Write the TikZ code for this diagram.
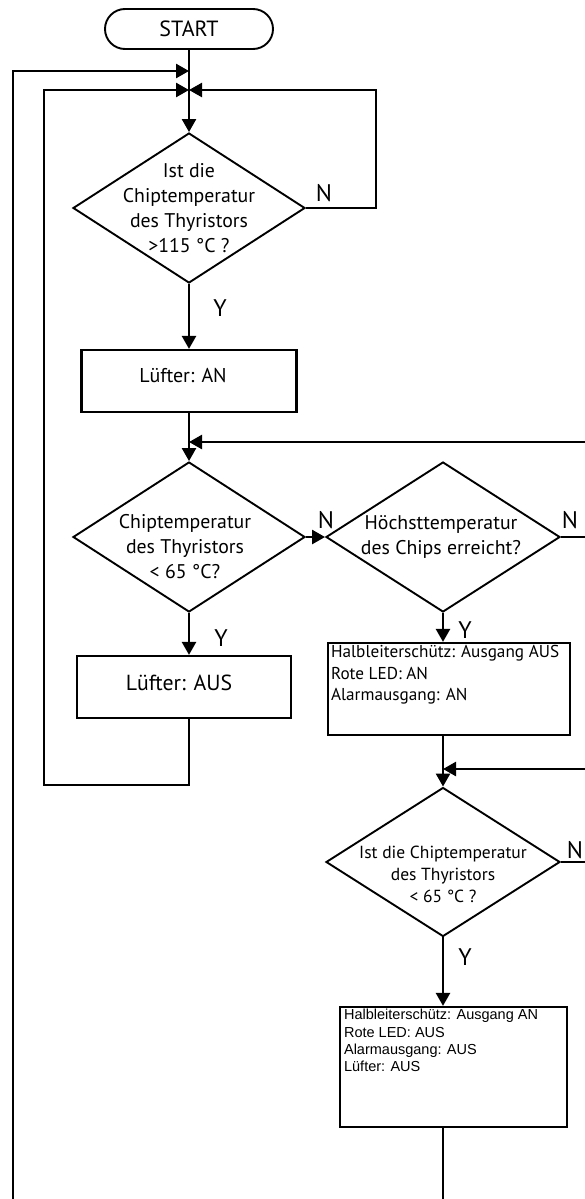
\documentclass[tikz,border=0pt]{standalone}
\usepackage{fontspec}
\setmainfont{PT Sans}
\newfontfamily\arialfont{Liberation Sans}
\usetikzlibrary{shapes.geometric,arrows.meta}
\begin{document}
\begin{tikzpicture}[x=1pt,y=-1pt,
  line/.style={line width=2.5pt},
  arr/.style={line, -{Triangle[length=13pt,width=14pt]}},
  dia/.style={diamond, draw, line width=1.9pt, inner sep=0pt},
  box/.style={rectangle, draw, line width=2.2pt, inner sep=0pt},
  lab/.style={font=\fontsize{24}{24}\selectfont, inner sep=0pt},
  dtext/.style={anchor=center, align=center, inner sep=0pt, font=\fontsize{19.8}{25}\selectfont},
  btext/.style={anchor=center, inner sep=0pt, font=\fontsize{20}{24}\selectfont},
  ]
\useasboundingbox (0,0) rectangle (585,1199);

% nodes
\node[draw, line width=1.9pt, rounded corners=20pt, minimum width=168pt, minimum height=40pt,
      inner sep=0pt, font=\fontsize{22}{22}\selectfont] (st) at (189,29) {START};

\node[dia, minimum width=232pt, minimum height=150pt,
      label={[dtext]center:Ist die\\Chiptemperatur\\des Thyristors\\>115 °C ?}] (d1) at (189,208) {};

\node[box, minimum width=215pt, minimum height=62pt,
      label={[btext, xshift=-6pt, yshift=5pt]center:Lüfter: AN}] (b1) at (189,381) {};

\node[dia, minimum width=232pt, minimum height=150pt,
      label={[dtext, xshift=-4pt, yshift=-10pt]center:Chiptemperatur\\des Thyristors\\< 65 °C?}] (d2) at (189,537) {};

\node[dia, minimum width=234pt, minimum height=150pt,
      label={[dtext, xshift=-2pt]center:Höchsttemperatur\\des Chips erreicht?}] (d3) at (443,537) {};

\node[box, minimum width=214pt, minimum height=62pt,
      label={[btext, xshift=-5pt, yshift=4pt, font=\fontsize{21.8}{24}\selectfont]center:Lüfter: AUS}] (b2) at (184,687) {};

\node[box, minimum width=242pt, minimum height=92pt,
      label={[anchor=north west, align=left, inner sep=3pt, xshift=1pt,
              font=\fontsize{17.2}{21.7}\selectfont]north west:Halbleiterschütz: Ausgang AUS\\Rote LED: AN\\Alarmausgang: AN}] (b3) at (449,689) {};

\node[dia, minimum width=234pt, minimum height=149pt,
      label={[dtext, yshift=-12pt, font=\fontsize{17.5}{22}\selectfont]center:Ist die Chiptemperatur\\des Thyristors\\< 65 °C ?}] (d4) at (443,862) {};

\node[box, minimum width=227pt, minimum height=120pt,
      label={[anchor=north west, align=left, inner sep=3pt, xshift=2pt,
              font=\arialfont\fontsize{14.5}{17.4}\selectfont]north west:Halbleiterschütz: Ausgang AN\\Rote LED: AUS\\Alarmausgang: AUS\\Lüfter: AUS}] (b4) at (453.5,1067) {};

% branch labels
\node[lab] (n1) at (324,193) {N};
\node[lab] (y1) at (220,308) {Y};
\node[lab] (n2) at (326,520) {N};
\node[lab] (y2) at (221,638) {Y};
\node[lab] (n3) at (570,520) {N};
\node[lab] (y3) at (465,630) {Y};
\node[lab] (n4) at (575,850) {N};
\node[lab] (y4) at (465,957) {Y};

% junctions and free ends
\coordinate (j1) at (189,71);
\coordinate (j2) at (189,90);
\coordinate (eL1) at (13,1199);
\coordinate (cL1) at (13,71);
\coordinate (cL2a) at (44,90);
\coordinate (cL2b) at (44,785);
\coordinate (cB2) at (189,785);
\coordinate (cR1a) at (376,208);
\coordinate (cR1b) at (376,90);
\coordinate (eR1) at (585,442);
\coordinate (j3) at (189,442);
\coordinate (eR2) at (585,537);
\coordinate (eR3) at (585,769);
\coordinate (j4) at (443,769);
\coordinate (eR4) at (585,862);
\coordinate (eB) at (443,1199);

% connectors
\draw[arr] (st.south) -- (d1.north);
\draw[arr] (eL1) -- (cL1) -- (j1);
\draw[arr] (d1.east) -- (cR1a) -- (cR1b) -- (j2);
\draw[arr] (b2.south -| d2.south) -- (cB2) -- (cL2b) -- (cL2a) -- (j2);
\draw[arr] (d1.south) -- (b1.north);
\draw[arr] (b1.south) -- (d2.north);
\draw[arr] (eR1) -- (j3);
\draw[arr] (d2.east) -- (d3.west);
\draw[arr] (d2.south) -- (d2.south |- b2.north);
\draw[line] (d3.east) -- (eR2);
\draw[arr] (d3.south) -- (d3.south |- b3.north);
\draw[arr] (b3.south -| d3.south) -- (d4.north);
\draw[arr] (eR3) -- (j4);
\draw[line] (d4.east) -- (eR4);
\draw[arr] (d4.south) -- (d4.south |- b4.north);
\draw[line] (b4.south -| d4.south) -- (eB);
\end{tikzpicture}
\end{document}
